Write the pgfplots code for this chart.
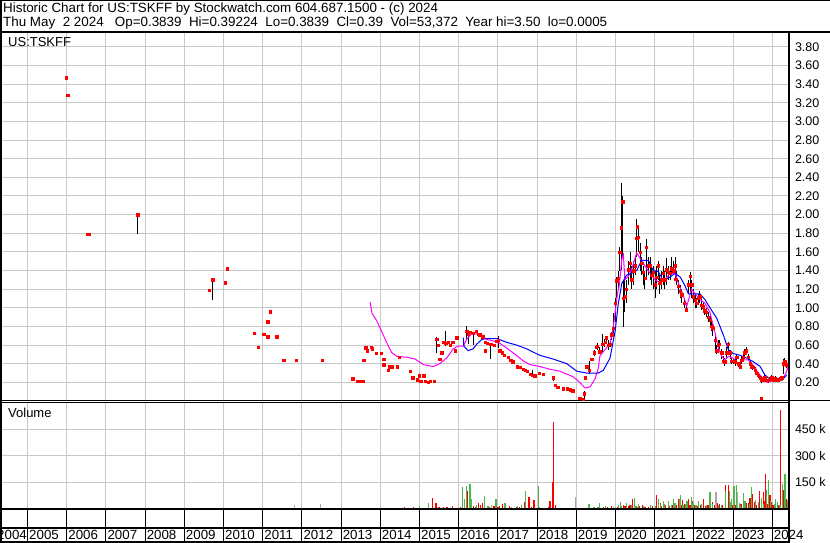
\documentclass[border=0pt]{standalone}
\usepackage{fontspec}
\setmainfont{Liberation Sans}
\usepackage{pgfplots}
\pgfplotsset{compat=1.18}
\definecolor{gridgray}{RGB}{200,200,200}
\definecolor{volgreen}{RGB}{76,184,76}
\definecolor{volgray}{RGB}{168,168,168}
\definecolor{swmag}{RGB}{255,0,255}
\definecolor{swblue}{RGB}{0,0,255}
\definecolor{swred}{RGB}{255,0,0}
\newcommand{\sw}{\fontsize{13.3}{15}\selectfont}
\newcommand{\swy}{\fontsize{12.5}{15}\selectfont}
\newcommand{\swt}{\fontsize{13.4}{15}\selectfont}
\newcommand{\swl}{\fontsize{13}{15}\selectfont}

\pgfplotsset{
  swpanel/.style={
    scale only axis, width=789pt, xmin=2004.298, xmax=2024.426,
    xtick={2005,...,2024}, xticklabels={}, xmajorgrids, ymajorgrids,
    major grid style={gridgray, line width=1pt},
    tick style={draw=none}, axis line style={line width=1pt},
    yticklabel pos=right,
    yticklabel style={anchor=west, font=\swy, xshift=2.5pt},
    /pgf/number format/assume math mode=true,
  },
}

\begin{document}
\begin{tikzpicture}[x=1pt,y=1pt]
\useasboundingbox (0,0) rectangle (830,543);

% ---- price panel
\begin{axis}[swpanel, at={(0pt,142pt)}, anchor=south west, height=369pt,
  ymin=0, ymax=3.96, ytick={0.2,0.4,...,3.81},
  yticklabel style={/pgf/number format/.cd, fixed, fixed zerofill, precision=2},
  unbounded coords=jump]
% high-low bars
\addplot[black, line width=0.9pt] coordinates {
(2007.81,1.79) (2007.81,2.00) (2007.81,nan)
(2009.72,1.08) (2009.72,1.31) (2009.72,nan)
(2014.20,0.33) (2014.20,0.37) (2014.20,nan)
(2015.44,0.52) (2015.44,0.69) (2015.44,nan)
(2015.67,0.59) (2015.67,0.75) (2015.67,nan)
(2016.20,0.67) (2016.20,0.81) (2016.20,nan)
(2016.24,0.61) (2016.24,0.76) (2016.24,nan)
(2016.37,0.60) (2016.37,0.74) (2016.37,nan)
(2016.82,0.45) (2016.82,0.62) (2016.82,nan)
(2017.01,0.57) (2017.01,0.70) (2017.01,nan)
(2017.89,0.26) (2017.89,0.33) (2017.89,nan)
(2018.41,0.21) (2018.41,0.26) (2018.41,nan)
(2019.20,0.00) (2019.20,0.11) (2019.20,nan)
(2019.33,0.29) (2019.33,0.43) (2019.33,nan)
(2019.45,0.48) (2019.45,0.55) (2019.45,nan)
(2019.54,0.55) (2019.54,0.62) (2019.54,nan)
(2019.60,0.50) (2019.60,0.58) (2019.60,nan)
(2019.67,0.52) (2019.67,0.72) (2019.67,nan)
(2019.73,0.58) (2019.73,0.66) (2019.73,nan)
(2019.77,0.62) (2019.77,0.70) (2019.77,nan)
(2019.82,0.55) (2019.82,0.65) (2019.82,nan)
(2019.86,0.58) (2019.86,0.66) (2019.86,nan)
(2019.90,0.65) (2019.90,0.74) (2019.90,nan)
(2019.94,0.73) (2019.94,0.94) (2019.94,nan)
(2019.99,0.85) (2019.99,1.10) (2019.99,nan)
(2020.03,1.10) (2020.03,1.33) (2020.03,nan)
(2020.07,1.20) (2020.07,1.40) (2020.07,nan)
(2020.11,1.40) (2020.11,1.65) (2020.11,nan)
(2020.14,1.41) (2020.14,2.34) (2020.14,nan)
(2020.18,1.55) (2020.18,2.20) (2020.18,nan)
(2020.20,0.79) (2020.20,1.30) (2020.20,nan)
(2020.24,0.95) (2020.24,1.35) (2020.24,nan)
(2020.28,1.05) (2020.28,1.30) (2020.28,nan)
(2020.33,1.25) (2020.33,1.50) (2020.33,nan)
(2020.37,1.30) (2020.37,1.60) (2020.37,nan)
(2020.41,1.20) (2020.41,1.45) (2020.41,nan)
(2020.46,1.25) (2020.46,1.50) (2020.46,nan)
(2020.50,1.35) (2020.50,1.55) (2020.50,nan)
(2020.54,1.55) (2020.54,1.95) (2020.54,nan)
(2020.58,1.60) (2020.58,1.85) (2020.58,nan)
(2020.63,1.40) (2020.63,1.70) (2020.63,nan)
(2020.67,1.35) (2020.67,1.55) (2020.67,nan)
(2020.71,1.25) (2020.71,1.45) (2020.71,nan)
(2020.75,1.20) (2020.75,1.40) (2020.75,nan)
(2020.79,1.30) (2020.79,1.74) (2020.79,nan)
(2020.84,1.35) (2020.84,1.55) (2020.84,nan)
(2020.88,1.30) (2020.88,1.55) (2020.88,nan)
(2020.92,1.25) (2020.92,1.45) (2020.92,nan)
(2020.96,1.20) (2020.96,1.45) (2020.96,nan)
(2021.01,1.10) (2021.01,1.40) (2021.01,nan)
(2021.05,1.20) (2021.05,1.45) (2021.05,nan)
(2021.09,1.30) (2021.09,1.50) (2021.09,nan)
(2021.13,1.15) (2021.13,1.35) (2021.13,nan)
(2021.18,1.20) (2021.18,1.40) (2021.18,nan)
(2021.22,1.25) (2021.22,1.45) (2021.22,nan)
(2021.26,1.20) (2021.26,1.40) (2021.26,nan)
(2021.31,1.25) (2021.31,1.53) (2021.31,nan)
(2021.35,1.30) (2021.35,1.45) (2021.35,nan)
(2021.39,1.30) (2021.39,1.45) (2021.39,nan)
(2021.43,1.35) (2021.43,1.55) (2021.43,nan)
(2021.48,1.35) (2021.48,1.50) (2021.48,nan)
(2021.52,1.30) (2021.52,1.55) (2021.52,nan)
(2021.56,1.25) (2021.56,1.40) (2021.56,nan)
(2021.60,1.15) (2021.60,1.30) (2021.60,nan)
(2021.65,1.10) (2021.65,1.25) (2021.65,nan)
(2021.69,1.05) (2021.69,1.20) (2021.69,nan)
(2021.75,1.00) (2021.75,1.10) (2021.75,nan)
(2021.80,0.95) (2021.80,1.05) (2021.80,nan)
(2021.86,1.15) (2021.86,1.30) (2021.86,nan)
(2021.90,1.15) (2021.90,1.38) (2021.90,nan)
(2021.94,1.10) (2021.94,1.30) (2021.94,nan)
(2021.98,1.05) (2021.98,1.20) (2021.98,nan)
(2022.03,1.00) (2022.03,1.15) (2022.03,nan)
(2022.07,1.00) (2022.07,1.10) (2022.07,nan)
(2022.11,1.05) (2022.11,1.15) (2022.11,nan)
(2022.15,1.05) (2022.15,1.18) (2022.15,nan)
(2022.20,0.98) (2022.20,1.10) (2022.20,nan)
(2022.24,0.95) (2022.24,1.05) (2022.24,nan)
(2022.28,0.92) (2022.28,1.03) (2022.28,nan)
(2022.31,0.90) (2022.31,1.00) (2022.31,nan)
(2022.37,0.85) (2022.37,0.95) (2022.37,nan)
(2022.41,0.80) (2022.41,0.92) (2022.41,nan)
(2022.45,0.75) (2022.45,0.85) (2022.45,nan)
(2022.48,0.70) (2022.48,0.83) (2022.48,nan)
(2022.54,0.55) (2022.54,0.70) (2022.54,nan)
(2022.58,0.50) (2022.58,0.60) (2022.58,nan)
(2022.62,0.52) (2022.62,0.65) (2022.62,nan)
(2022.65,0.55) (2022.65,0.65) (2022.65,nan)
(2022.71,0.45) (2022.71,0.56) (2022.71,nan)
(2022.75,0.40) (2022.75,0.48) (2022.75,nan)
(2022.79,0.38) (2022.79,0.46) (2022.79,nan)
(2022.84,0.45) (2022.84,0.58) (2022.84,nan)
(2022.88,0.50) (2022.88,0.63) (2022.88,nan)
(2022.92,0.45) (2022.92,0.55) (2022.92,nan)
(2022.96,0.40) (2022.96,0.47) (2022.96,nan)
(2023.01,0.40) (2023.01,0.45) (2023.01,nan)
(2023.05,0.38) (2023.05,0.45) (2023.05,nan)
(2023.09,0.42) (2023.09,0.50) (2023.09,nan)
(2023.14,0.36) (2023.14,0.42) (2023.14,nan)
(2023.18,0.34) (2023.18,0.40) (2023.18,nan)
(2023.22,0.40) (2023.22,0.48) (2023.22,nan)
(2023.26,0.44) (2023.26,0.52) (2023.26,nan)
(2023.30,0.48) (2023.30,0.56) (2023.30,nan)
(2023.33,0.50) (2023.33,0.58) (2023.33,nan)
(2023.39,0.44) (2023.39,0.50) (2023.39,nan)
(2023.43,0.38) (2023.43,0.44) (2023.43,nan)
(2023.47,0.35) (2023.47,0.40) (2023.47,nan)
(2023.50,0.33) (2023.50,0.38) (2023.50,nan)
(2023.56,0.30) (2023.56,0.36) (2023.56,nan)
(2023.60,0.28) (2023.60,0.33) (2023.60,nan)
(2023.64,0.25) (2023.64,0.30) (2023.64,nan)
(2023.69,0.22) (2023.69,0.28) (2023.69,nan)
(2023.73,0.19) (2023.73,0.24) (2023.73,nan)
(2023.77,0.20) (2023.77,0.26) (2023.77,nan)
(2023.81,0.22) (2023.81,0.28) (2023.81,nan)
(2023.86,0.20) (2023.86,0.25) (2023.86,nan)
(2023.90,0.19) (2023.90,0.24) (2023.90,nan)
(2023.94,0.21) (2023.94,0.26) (2023.94,nan)
(2023.98,0.22) (2023.98,0.28) (2023.98,nan)
(2024.03,0.21) (2024.03,0.26) (2024.03,nan)
(2024.07,0.22) (2024.07,0.27) (2024.07,nan)
(2024.11,0.21) (2024.11,0.25) (2024.11,nan)
(2024.15,0.20) (2024.15,0.25) (2024.15,nan)
(2024.20,0.21) (2024.20,0.26) (2024.20,nan)
(2024.24,0.22) (2024.24,0.27) (2024.24,nan)
(2024.28,0.29) (2024.28,0.45) (2024.28,nan)
(2024.32,0.38) (2024.32,0.46) (2024.32,nan)
(2024.37,0.35) (2024.37,0.42) (2024.37,nan)
};
% closes
\addplot[only marks, mark=square*, mark size=1.2pt, swred, mark options={draw=swred, fill=swred}] coordinates {
(2005.99,3.47) (2006.03,3.28) (2006.52,1.79) (2006.57,1.79) (2007.81,2.00)
(2009.63,1.19) (2009.72,1.30) (2010.04,1.27) (2010.09,1.42)
(2010.78,0.73) (2010.88,0.58) (2011.03,0.72) (2011.13,0.85) (2011.13,0.69)
(2011.19,0.96) (2011.36,0.69) (2011.54,0.44) (2011.85,0.44) (2012.51,0.44)
(2013.30,0.24) (2013.41,0.21) (2013.48,0.21) (2013.56,0.21)
(2013.58,0.44) (2013.63,0.57) (2013.66,0.54) (2013.76,0.58) (2013.79,0.56)
(2013.89,0.51) (2014.02,0.51) (2014.09,0.45) (2014.09,0.39) (2014.20,0.33)
(2014.22,0.37) (2014.30,0.37) (2014.43,0.37) (2014.48,0.47)
(2014.76,0.32) (2014.83,0.25) (2014.94,0.23) (2014.99,0.27)
(2015.03,0.21) (2015.11,0.27) (2015.14,0.21) (2015.22,0.20) (2015.27,0.21) (2015.37,0.21)
(2015.44,0.66) (2015.47,0.60) (2015.52,0.45) (2015.57,0.52) (2015.62,0.63)
(2015.67,0.62) (2015.73,0.63) (2015.78,0.60) (2015.85,0.63) (2015.91,0.54) (2015.95,0.68)
(2016.20,0.75) (2016.24,0.72) (2016.29,0.74) (2016.37,0.73) (2016.44,0.75)
(2016.49,0.72) (2016.54,0.71) (2016.61,0.69) (2016.67,0.63) (2016.67,0.54)
(2016.72,0.62) (2016.82,0.61) (2016.90,0.60) (2016.97,0.64) (2017.01,0.65)
(2017.05,0.54) (2017.11,0.52) (2017.16,0.49) (2017.26,0.47) (2017.33,0.44)
(2017.38,0.42) (2017.49,0.37) (2017.56,0.36) (2017.64,0.34) (2017.69,0.33)
(2017.74,0.32) (2017.82,0.29) (2017.89,0.28) (2017.94,0.27) (2018.05,0.30)
(2018.15,0.29) (2018.41,0.25) (2018.46,0.17) (2018.53,0.15) (2018.66,0.13)
(2018.76,0.13) (2018.84,0.12) (2018.91,0.11) (2019.09,0.03) (2019.17,0.02)
(2019.20,0.08) (2019.22,0.25) (2019.26,0.37) (2019.33,0.33) (2019.39,0.45)
(2019.45,0.52) (2019.50,0.58) (2019.54,0.59) (2019.60,0.53) (2019.67,0.61)
(2019.73,0.63) (2019.77,0.68) (2019.82,0.60) (2019.86,0.61) (2019.90,0.71)
(2019.94,0.78) (2019.99,1.05) (2020.03,1.29) (2020.07,1.32) (2020.11,1.60)
(2020.14,1.86) (2020.18,2.14) (2020.20,1.10) (2020.24,1.12) (2020.28,1.20)
(2020.33,1.41) (2020.37,1.48) (2020.41,1.30) (2020.46,1.40) (2020.50,1.45)
(2020.54,1.75) (2020.56,1.87) (2020.58,1.76) (2020.63,1.60) (2020.67,1.48)
(2020.71,1.38) (2020.75,1.32) (2020.79,1.65) (2020.84,1.45) (2020.88,1.45)
(2020.92,1.35) (2020.96,1.38) (2021.01,1.25) (2021.05,1.33) (2021.09,1.45)
(2021.13,1.27) (2021.18,1.30) (2021.22,1.37) (2021.26,1.30) (2021.31,1.41)
(2021.35,1.38) (2021.39,1.37) (2021.43,1.42) (2021.48,1.40) (2021.52,1.45)
(2021.54,1.31) (2021.60,1.23) (2021.65,1.18) (2021.69,1.14) (2021.75,1.05)
(2021.80,0.98) (2021.86,1.25) (2021.90,1.34) (2021.94,1.25) (2021.98,1.12)
(2022.03,1.08) (2022.07,1.05) (2022.11,1.10) (2022.15,1.12) (2022.20,1.03)
(2022.24,1.01) (2022.28,0.97) (2022.31,0.95) (2022.37,0.90) (2022.41,0.87)
(2022.45,0.80) (2022.48,0.78) (2022.54,0.65) (2022.58,0.54) (2022.62,0.60)
(2022.65,0.61) (2022.71,0.52) (2022.75,0.43) (2022.79,0.42) (2022.84,0.52)
(2022.88,0.61) (2022.92,0.52) (2022.96,0.43) (2023.01,0.43) (2023.05,0.42)
(2023.09,0.47) (2023.14,0.40) (2023.18,0.37) (2023.22,0.44) (2023.26,0.47)
(2023.30,0.52) (2023.33,0.54) (2023.39,0.47) (2023.43,0.40) (2023.47,0.37)
(2023.50,0.36) (2023.56,0.33) (2023.60,0.30) (2023.64,0.28) (2023.69,0.25)
(2023.71,0.03) (2023.73,0.22) (2023.77,0.23) (2023.81,0.25) (2023.86,0.22)
(2023.90,0.22) (2023.94,0.24) (2023.98,0.25) (2024.03,0.23) (2024.07,0.24)
(2024.11,0.23) (2024.15,0.23) (2024.20,0.24) (2024.24,0.25) (2024.28,0.40)
(2024.32,0.43) (2024.37,0.39)
};
% short moving average
\addplot[swmag, line width=1pt] coordinates {
(2013.74,1.06) (2013.79,0.94) (2013.91,0.86) (2014.03,0.75) (2014.16,0.63)
(2014.29,0.52) (2014.42,0.48) (2014.67,0.47) (2014.89,0.45) (2015.10,0.39)
(2015.35,0.37) (2015.52,0.40) (2015.69,0.46) (2015.86,0.56) (2015.99,0.59)
(2016.12,0.59) (2016.20,0.66) (2016.33,0.72) (2016.46,0.72) (2016.59,0.71)
(2016.71,0.66) (2016.84,0.65) (2017.01,0.63) (2017.22,0.57) (2017.44,0.50)
(2017.65,0.43) (2017.82,0.39) (2018.07,0.37) (2018.33,0.34) (2018.58,0.32)
(2018.92,0.26) (2019.09,0.20) (2019.22,0.14) (2019.35,0.15) (2019.48,0.24)
(2019.56,0.35) (2019.60,0.48) (2019.67,0.52) (2019.73,0.55) (2019.86,0.62)
(2019.94,0.78) (2019.99,0.95) (2020.05,1.15) (2020.10,1.25) (2020.16,1.52)
(2020.20,1.57) (2020.24,1.30) (2020.33,1.34) (2020.41,1.41) (2020.54,1.59)
(2020.63,1.53) (2020.75,1.45) (2020.88,1.37) (2021.01,1.30) (2021.13,1.27)
(2021.26,1.30) (2021.39,1.37) (2021.52,1.37) (2021.60,1.27) (2021.73,1.13)
(2021.82,1.02) (2021.94,1.20) (2022.03,1.15) (2022.15,1.09) (2022.28,1.05)
(2022.41,0.95) (2022.54,0.73) (2022.62,0.58) (2022.71,0.48) (2022.79,0.44)
(2022.88,0.48) (2023.00,0.46) (2023.13,0.40) (2023.26,0.44) (2023.39,0.44)
(2023.52,0.38) (2023.64,0.30) (2023.77,0.24) (2023.86,0.20) (2024.03,0.22)
(2024.20,0.22) (2024.28,0.25) (2024.35,0.30) (2024.41,0.38)
};
% long moving average
\addplot[swblue, line width=1pt] coordinates {
(2016.12,0.68) (2016.13,0.59) (2016.24,0.54) (2016.37,0.56) (2016.46,0.61)
(2016.59,0.66) (2016.71,0.67) (2016.97,0.67) (2017.22,0.63) (2017.48,0.60)
(2017.73,0.56) (2018.07,0.49) (2018.41,0.45) (2018.76,0.40) (2019.01,0.32)
(2019.26,0.30) (2019.56,0.30) (2019.69,0.33) (2019.86,0.46) (2019.99,0.75)
(2020.07,1.04) (2020.16,1.26) (2020.28,1.35) (2020.41,1.37) (2020.54,1.40)
(2020.67,1.51) (2020.84,1.51) (2020.96,1.40) (2021.09,1.39) (2021.22,1.29)
(2021.39,1.33) (2021.52,1.37) (2021.65,1.33) (2021.77,1.24) (2021.86,1.15)
(2022.15,1.15) (2022.28,1.09) (2022.41,1.00) (2022.58,0.89) (2022.75,0.71)
(2022.88,0.55) (2023.00,0.51) (2023.18,0.49) (2023.35,0.46) (2023.52,0.42)
(2023.69,0.37) (2023.81,0.28) (2023.98,0.22) (2024.24,0.22) (2024.37,0.28)
};
\end{axis}

% ---- volume panel (thousands)
\begin{axis}[swpanel, at={(0pt,34pt)}, anchor=south west, height=106pt,
  ymin=0, ymax=600, ytick={150,300,450}, yticklabels={150 k,300 k,450 k}]
\addplot[ycomb, volgray, line width=1.3pt] coordinates {
(2011.81,20) (2012.48,27) (2016.84,25) (2018.98,67) (2022.56,96) (2023.12,96)
};
\addplot[ycomb, swred, line width=1.3pt] coordinates {
(2006.00,4) (2006.51,4) (2009.61,4) (2009.67,5) (2010.73,4) (2010.85,5) (2010.95,5)
(2011.52,6) (2013.30,5) (2013.60,6) (2013.90,5) (2014.20,5) (2014.50,8) (2014.62,10) (2014.85,12)
(2015.05,6) (2015.15,8) (2015.34,63) (2015.42,35) (2015.50,10) (2015.61,12) (2015.70,12)
(2015.85,15) (2015.95,8) (2016.05,10) (2016.23,102) (2016.37,15) (2016.42,12) (2016.50,35)
(2016.55,20) (2016.61,35) (2016.70,8) (2016.78,10) (2016.90,15) (2017.00,10) (2017.04,15)
(2017.12,29) (2017.25,8) (2017.30,18) (2017.40,6) (2017.48,12) (2017.55,10) (2017.67,38)
(2017.79,67) (2017.85,12) (2017.92,50) (2018.10,8) (2018.18,6) (2018.30,10) (2018.33,44)
(2018.39,150) (2018.42,490) (2018.47,23) (2018.55,8) (2018.65,6) (2018.75,5) (2018.88,5)
(2019.05,5) (2019.15,8) (2019.40,6) (2019.50,8) (2019.70,10) (2019.80,12) (2019.90,15)
(2020.00,8) (2020.06,10) (2020.20,25) (2020.24,15) (2020.33,18) (2020.37,25) (2020.43,54)
(2020.55,12) (2020.62,15) (2020.68,20) (2020.75,12) (2020.85,10) (2020.95,18) (2021.05,79)
(2021.10,25) (2021.15,35) (2021.18,15) (2021.28,20) (2021.38,18) (2021.45,22) (2021.55,25)
(2021.60,54) (2021.68,20) (2021.71,50) (2021.76,30) (2021.86,58) (2021.90,25) (2021.97,44)
(2022.02,20) (2022.08,15) (2022.17,22) (2022.24,58) (2022.30,18) (2022.36,25) (2022.48,38)
(2022.52,20) (2022.60,35) (2022.66,30) (2022.72,25) (2022.81,137) (2022.88,137) (2022.98,20)
(2023.05,25) (2023.20,30) (2023.33,35) (2023.35,20) (2023.39,35) (2023.43,63) (2023.50,83)
(2023.55,40) (2023.60,25) (2023.67,102) (2023.72,35) (2023.77,96) (2023.80,45) (2023.83,196)
(2023.88,30) (2023.94,79) (2023.98,38) (2024.02,25) (2024.08,30) (2024.17,20) (2024.21,563)
(2024.28,108) (2024.35,58) (2024.38,40)
};
\addplot[ycomb, volgreen, line width=1.3pt] coordinates {
(2007.79,4) (2009.71,4) (2010.01,4) (2011.31,5) (2013.45,5) (2013.75,5) (2014.05,6)
(2014.35,5) (2014.70,6) (2015.00,19) (2015.10,6) (2015.23,35) (2015.30,5) (2015.55,8)
(2015.80,6) (2016.10,127) (2016.14,54) (2016.19,131) (2016.29,144) (2016.33,54) (2016.45,20)
(2016.60,8) (2016.66,73) (2016.75,18) (2016.95,54) (2017.08,8) (2017.18,35) (2017.35,10)
(2017.50,15) (2017.61,25) (2017.71,102) (2017.75,6) (2018.03,131) (2018.05,10) (2018.24,6)
(2018.60,5) (2019.10,6) (2019.25,8) (2019.32,27) (2019.45,12) (2019.55,10) (2019.60,35)
(2019.75,15) (2019.95,12) (2020.07,25) (2020.13,38) (2020.15,15) (2020.28,35) (2020.40,20)
(2020.48,63) (2020.52,18) (2020.58,29) (2020.72,15) (2020.90,25) (2021.02,18) (2021.09,54)
(2021.15,25) (2021.22,44) (2021.25,30) (2021.35,44) (2021.42,20) (2021.48,54) (2021.52,35)
(2021.63,58) (2021.66,79) (2021.72,25) (2021.80,30) (2021.82,44) (2021.93,67) (2021.98,35)
(2022.05,25) (2022.11,44) (2022.20,30) (2022.33,20) (2022.41,96) (2022.48,30) (2022.62,25)
(2022.70,20) (2022.81,102) (2022.90,102) (2022.92,40) (2022.96,54) (2023.02,131) (2023.09,137)
(2023.16,35) (2023.18,25) (2023.26,92) (2023.30,45) (2023.42,30) (2023.47,127) (2023.58,50)
(2023.65,40) (2023.73,63) (2023.78,30) (2023.86,108) (2023.90,163) (2023.95,45) (2024.05,30)
(2024.09,54) (2024.13,40) (2024.20,25) (2024.26,144) (2024.32,196) (2024.40,50)
};
\end{axis}

% ---- date row
\begin{axis}[scale only axis, width=789pt, height=33pt, at={(0pt,1pt)}, anchor=south west,
  xmin=2004.298, xmax=2024.426, ymin=0, ymax=1, ytick=\empty,
  xtick={2005,...,2024},
  xticklabels={2005,2006,2007,2008,2009,2010,2011,2012,2013,2014,2015,2016,2017,2018,2019,2020,2021,2022,2023,2024},
  xmajorgrids, major grid style={black, line width=1pt}, tick style={draw=none},
  axis line style={line width=1.3pt},
  xticklabel style={anchor=south west, font=\sw, inner sep=0.5pt, xshift=1pt, yshift=1.2pt},
  extra y ticks={0.42}, extra y tick labels={},
  extra y tick style={grid=major, major grid style={black, line width=1.3pt}}]
\node[anchor=south east, font=\sw, inner sep=0.5pt] at (axis cs:2005,0.04) {2004};
\end{axis}

% frame lines and panel texts
\draw[line width=1.3pt] (0,511) -- (830,511);
\draw[line width=1pt] (789,142) -- (830,142);
\draw[line width=2pt] (789,1) -- (789,511);
\draw[line width=3pt] (0,0) -- (0,543);
\draw[line width=2pt] (0,543) -- (830,543);
\node[anchor=base west, font=\swt, inner sep=0pt] at (3,530) {Historic Chart for US:TSKFF by Stockwatch.com 604.687.1500 - (c) 2024};
\node[anchor=base west, font=\swt, inner sep=0pt] at (3,516.5) {Thu May~~2 2024~~~Op=0.3839~~Hi=0.39224~~Lo=0.3839~~Cl=0.39~~Vol=53,372~~Year hi=3.50~~lo=0.0005};
\node[anchor=base west, font=\swl, inner sep=0pt] at (8,496.5) {US:TSKFF};
\node[anchor=base west, font=\swl, inner sep=0pt] at (8,125) {Volume};
\end{tikzpicture}
\end{document}
